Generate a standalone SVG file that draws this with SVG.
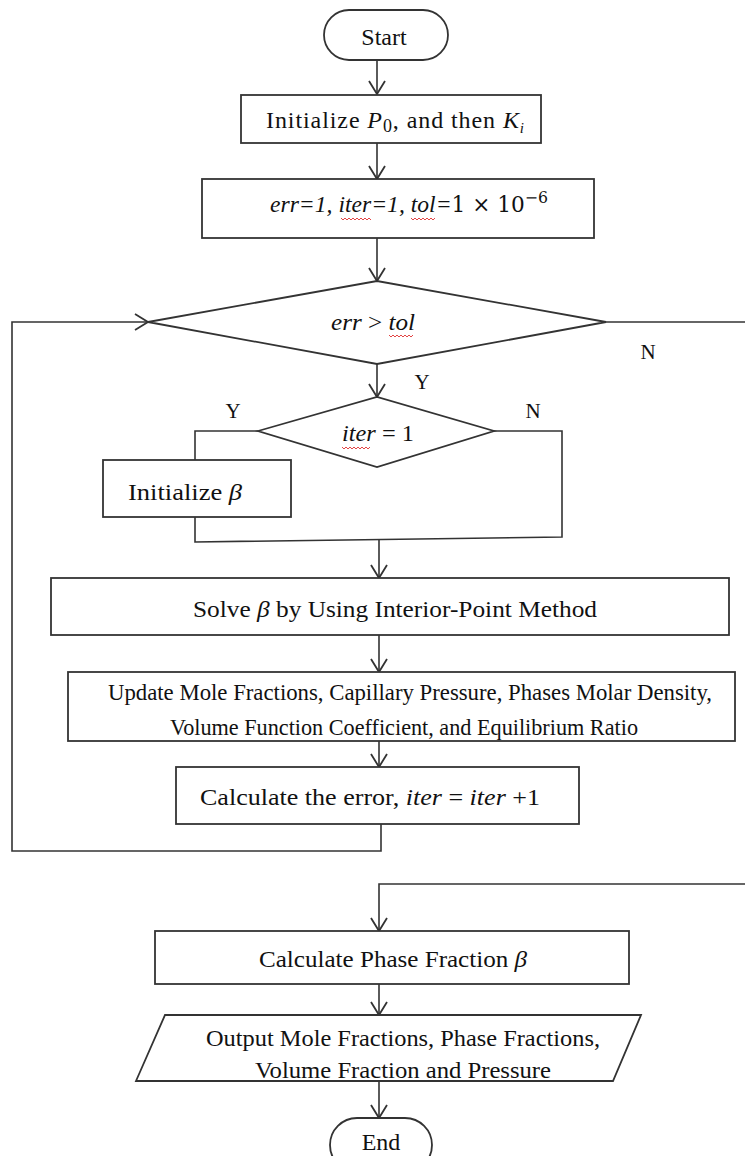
<svg xmlns="http://www.w3.org/2000/svg" width="745" height="1156" viewBox="0 0 745 1156">
<style>
.shape{fill:#fff;stroke:#333;stroke-width:1.8}
.ln{fill:none;stroke:#333;stroke-width:1.6}
.arr{fill:none;stroke:#333;stroke-width:1.6;marker-end:url(#ah)}
.t{font-family:"Liberation Serif","Times New Roman",serif;font-size:24px;fill:#111}
.s{font-size:21px}
.i{font-style:italic}
.m{font-family:"DejaVu Serif","Liberation Serif",serif;font-style:normal}
.sq{fill:none;stroke:#e03030;stroke-width:0.9}
</style>
<defs>
<marker id="ah" markerUnits="userSpaceOnUse" markerWidth="30" markerHeight="30" viewBox="-15 -15 30 30" refX="0" refY="0" orient="auto" overflow="visible">
<path d="M-13,-8 L0,0 L-13,8" fill="none" stroke="#333" stroke-width="1.8"/>
</marker>
</defs>

<g id="connectors">
<line class="arr" x1="377" y1="60" x2="377" y2="94"/>
<line class="arr" x1="377" y1="143" x2="377" y2="179"/>
<line class="arr" x1="377" y1="238" x2="377" y2="281"/>
<line class="arr" x1="377" y1="364" x2="377" y2="397"/>
<polyline class="ln" points="258,431 195,431 195,460"/>
<polyline class="ln" points="195,517 195,542 562,537 562,431 494,431"/>
<line class="arr" x1="379" y1="540" x2="379" y2="578"/>
<line class="arr" x1="379" y1="635" x2="379" y2="672"/>
<line class="arr" x1="379" y1="741" x2="379" y2="767"/>
<polyline class="arr" points="381,824 381,851 12,851 12,322 148,322"/>
<line class="ln" x1="606" y1="322" x2="745" y2="322"/>
<polyline class="arr" points="745,884 379,884 379,931"/>
<line class="arr" x1="379" y1="984" x2="379" y2="1015"/>
<line class="arr" x1="379" y1="1081" x2="379" y2="1118"/>
<text class="t s" x="422" y="389" text-anchor="middle">Y</text>
<text class="t s" x="233" y="418" text-anchor="middle">Y</text>
<text class="t s" x="533" y="418" text-anchor="middle">N</text>
<text class="t s" x="648" y="359" text-anchor="middle">N</text>
</g>

<g id="start">
<rect class="shape" x="324" y="10" width="124" height="50" rx="25"/>
<text class="t" x="384" y="45" text-anchor="middle">Start</text>
</g>

<g id="init-p0">
<rect class="shape" x="241" y="95" width="300" height="48"/>
<text class="t" x="266" y="128" textLength="258" lengthAdjust="spacing">Initialize  <tspan class="i">P</tspan><tspan font-size="18" dy="4">0</tspan><tspan dy="-4">, and then  </tspan><tspan class="i">K</tspan><tspan class="i" font-size="15" dy="5">i</tspan></text>
</g>

<g id="init-err">
<rect class="shape" x="202" y="179" width="392" height="59"/>
<text class="t" x="270" y="212" textLength="278" lengthAdjust="spacingAndGlyphs"><tspan class="i">err=1, iter=1, tol=</tspan><tspan class="m" font-size="22">1 × 10</tspan><tspan class="m" font-size="16" dy="-9">−6</tspan></text>
<path class="sq" d="M341,218 l2,2 l2,-2 l2,2 l2,-2 l2,2 l2,-2 l2,2 l2,-2 l2,2 l2,-2 l2,2 l2,-2 l2,2 l2,-2 l2,2"/>
<path class="sq" d="M411,218 l2,2 l2,-2 l2,2 l2,-2 l2,2 l2,-2 l2,2 l2,-2 l2,2 l2,-2 l2,2 l2,-2"/>
</g>

<g id="check-err">
<polygon class="shape" points="148,322 377,281 606,322 377,364"/>
<text class="t" x="331" y="330" textLength="84" lengthAdjust="spacingAndGlyphs"><tspan class="i">err</tspan> &gt; <tspan class="i">tol</tspan></text>
<path class="sq" d="M389,335 l2,2 l2,-2 l2,2 l2,-2 l2,2 l2,-2 l2,2 l2,-2 l2,2 l2,-2 l2,2 l2,-2"/>
</g>

<g id="check-iter">
<polygon class="shape" points="258,431 377,397 494,431 377,467"/>
<text class="t" x="342" y="441" textLength="72" lengthAdjust="spacingAndGlyphs"><tspan class="i">iter</tspan> = 1</text>
<path class="sq" d="M342,447 l2,2 l2,-2 l2,2 l2,-2 l2,2 l2,-2 l2,2 l2,-2 l2,2 l2,-2 l2,2 l2,-2 l2,2 l2,-2"/>
</g>

<g id="init-beta">
<rect class="shape" x="103" y="460" width="188" height="57"/>
<text class="t" x="128" y="500" textLength="114" lengthAdjust="spacingAndGlyphs">Initialize  <tspan class="i">β</tspan></text>
</g>

<g id="solve-beta">
<rect class="shape" x="51" y="578" width="678" height="57"/>
<text class="t" x="193" y="617" textLength="404" lengthAdjust="spacingAndGlyphs">Solve  <tspan class="i">β</tspan>  by Using Interior-Point Method</text>
</g>

<g id="update">
<rect class="shape" x="68" y="672" width="667" height="69"/>
<text class="t" x="108" y="700" textLength="604" lengthAdjust="spacingAndGlyphs">Update Mole Fractions, Capillary Pressure, Phases Molar Density,</text>
<text class="t" x="170" y="735" textLength="468" lengthAdjust="spacingAndGlyphs">Volume Function Coefficient, and Equilibrium Ratio</text>
</g>

<g id="calc-error">
<rect class="shape" x="176" y="767" width="403" height="57"/>
<text class="t" x="200" y="805" textLength="340" lengthAdjust="spacingAndGlyphs">Calculate the error,  <tspan class="i">iter</tspan> = <tspan class="i">iter</tspan> +1</text>
</g>

<g id="calc-phase">
<rect class="shape" x="155" y="931" width="474" height="53"/>
<text class="t" x="259" y="967" textLength="268" lengthAdjust="spacingAndGlyphs">Calculate Phase Fraction  <tspan class="i">β</tspan></text>
</g>

<g id="output">
<polygon class="shape" points="165,1015 641,1015 613,1081 136,1081"/>
<text class="t" x="206" y="1046" textLength="394" lengthAdjust="spacingAndGlyphs">Output Mole Fractions, Phase Fractions,</text>
<text class="t" x="255" y="1078" textLength="296" lengthAdjust="spacingAndGlyphs">Volume Fraction and Pressure</text>
</g>

<g id="end">
<rect class="shape" x="330" y="1118" width="102" height="54" rx="27"/>
<text class="t" x="381" y="1150" text-anchor="middle">End</text>
</g>
</svg>
